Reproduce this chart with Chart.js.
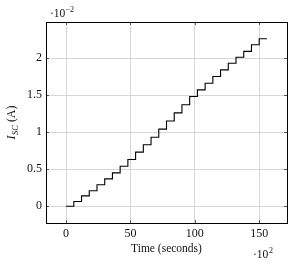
<!DOCTYPE html>
<html>
<head>
<meta charset="utf-8">
<script src="https://cdn.jsdelivr.net/npm/chart.js@4.4.1/dist/chart.umd.min.js"></script>
<style>
  html, body { margin: 0; padding: 0; background: #ffffff; }
  #wrap { width: 297px; height: 264px; }
</style>
</head>
<body>
<div id="wrap"><canvas id="c" width="297" height="264"></canvas></div>
<script>
// Time in units of 10^2 s, current in units of 10^-2 A
const times = [0, 6, 12, 18, 24, 30, 36, 42, 48, 54, 60, 66, 72, 78, 84, 90, 96, 102, 108, 114, 120, 126, 132, 138, 144, 150, 156];
const current = [0, 0.065, 0.14, 0.21, 0.29, 0.37, 0.45, 0.54, 0.63, 0.73, 0.83, 0.93, 1.04, 1.15, 1.26, 1.37, 1.48, 1.57, 1.66, 1.75, 1.84, 1.93, 2.01, 2.09, 2.18, 2.26, 2.26];
const xTicks = [0, 50, 100, 150];
const yTicks = [0, 0.5, 1, 1.5, 2];
const yTickLabels = ['0', '0.5', '1', '1.5', '2'];
const xTitle = 'Time (seconds)';
const xExponent = '2';
const yExponent = '\u22122';

const SERIF = '"Liberation Serif", "DejaVu Serif", serif';

const framePlugin = {
  id: 'frame',
  afterDraw(chart) {
    const { ctx, chartArea: a, scales } = chart;
    ctx.save();
    // inner tick marks
    ctx.strokeStyle = '#333';
    ctx.lineWidth = 0.8;
    const tl = 3;
    xTicks.forEach(v => {
      const px = Math.round(scales.x.getPixelForValue(v)) + 0.5;
      ctx.beginPath();
      ctx.moveTo(px, a.bottom); ctx.lineTo(px, a.bottom - tl);
      ctx.moveTo(px, a.top); ctx.lineTo(px, a.top + tl);
      ctx.stroke();
    });
    yTicks.forEach(v => {
      const py = Math.round(scales.y.getPixelForValue(v)) + 0.5;
      ctx.beginPath();
      ctx.moveTo(a.left, py); ctx.lineTo(a.left + tl, py);
      ctx.moveTo(a.right, py); ctx.lineTo(a.right - tl, py);
      ctx.stroke();
    });
    // frame
    ctx.strokeStyle = '#000';
    ctx.lineWidth = 1;
    ctx.strokeRect(Math.round(a.left) + 0.5, Math.round(a.top) + 0.5,
                   Math.round(a.right - a.left), Math.round(a.bottom - a.top));

    ctx.fillStyle = '#111';
    ctx.textBaseline = 'alphabetic';
    // x title
    ctx.font = '11.5px ' + SERIF;
    ctx.textAlign = 'center';
    ctx.fillText(xTitle, (a.left + a.right) / 2, 252);

    // x exponent
    ctx.textAlign = 'left';
    ctx.font = '11.5px ' + SERIF;
    ctx.fillText('\u00b710', 253, 258);
    ctx.font = '8px ' + SERIF;
    ctx.fillText(xExponent, 269, 253);

    // y exponent
    ctx.font = '11.5px ' + SERIF;
    ctx.fillText('\u00b710', 50, 17);
    ctx.font = '8px ' + SERIF;
    ctx.fillText(yExponent, 65.5, 12);

    // y title (rotated): I_SC (A)
    ctx.save();
    ctx.translate(15, (a.top + a.bottom) / 2);
    ctx.rotate(-Math.PI / 2);
    ctx.font = 'italic 12px ' + SERIF;
    const wI = ctx.measureText('I').width;
    ctx.font = 'italic 8.5px ' + SERIF;
    const wS = ctx.measureText('SC').width;
    ctx.font = '12px ' + SERIF;
    const wA = ctx.measureText(' (A)').width;
    let x0 = -(wI + wS + 0.5 + wA) / 2;
    ctx.textAlign = 'left';
    ctx.font = 'italic 12px ' + SERIF;
    ctx.fillText('I', x0, 0);
    x0 += wI + 0.5;
    ctx.font = 'italic 8.5px ' + SERIF;
    ctx.fillText('SC', x0, 2.5);
    x0 += wS;
    ctx.font = '12px ' + SERIF;
    ctx.fillText(' (A)', x0, 0);
    ctx.restore();

    ctx.restore();
  }
};

new Chart(document.getElementById('c'), {
  type: 'line',
  data: {
    datasets: [{
      data: times.map((t, i) => ({ x: t, y: current[i] })),
      borderColor: '#000',
      borderWidth: 1.1,
      pointRadius: 0,
      stepped: 'before',
      fill: false,
      tension: 0
    }]
  },
  options: {
    responsive: false,
    animation: false,
    devicePixelRatio: 1,
    layout: { padding: { left: 0, right: 10, top: 22, bottom: 0 } },
    plugins: { legend: { display: false }, tooltip: { enabled: false } },
    scales: {
      x: {
        type: 'linear',
        min: -15.6,
        max: 171.6,
        afterBuildTicks(s) { s.ticks = xTicks.map(v => ({ value: v })); },
        afterFit(s) { s.height = 41; },
        grid: { color: '#d6d6d6', lineWidth: 1, drawTicks: false },
        border: { display: false },
        ticks: {
          color: '#111',
          padding: 4,
          maxRotation: 0,
          font: { family: SERIF, size: 12 },
          callback: v => String(v)
        }
      },
      y: {
        type: 'linear',
        min: -0.226,
        max: 2.486,
        afterBuildTicks(s) { s.ticks = yTicks.map(v => ({ value: v })); },
        afterFit(s) { s.width = 46; },
        grid: { color: '#d6d6d6', lineWidth: 1, drawTicks: false },
        border: { display: false },
        ticks: {
          color: '#111',
          padding: 4,
          font: { family: SERIF, size: 12 },
          callback: (v) => { const i = yTicks.indexOf(v); return i >= 0 ? yTickLabels[i] : ''; }
        }
      }
    }
  },
  plugins: [framePlugin]
});
</script>
</body>
</html>
